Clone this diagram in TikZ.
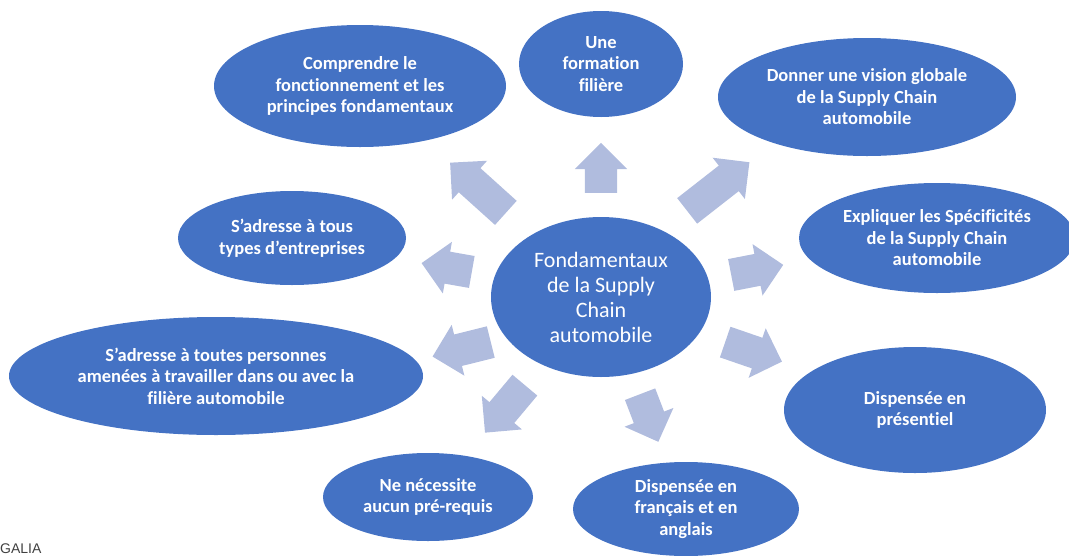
\documentclass[tikz,border=0pt]{standalone}
\usepackage{fontspec}
\setmainfont{Carlito}[Ligatures=NoCommon]
\newfontfamily\galiafont{Liberation Sans}
\usepackage{xcolor}
\usepackage{tikz}
\usetikzlibrary{shapes.geometric,shapes.arrows}
\definecolor{ovalblue}{RGB}{68,114,196}
\definecolor{arrowblue}{RGB}{176,188,222}

\begin{document}
\begin{tikzpicture}[x=1pt,y=-1pt,
        oval/.style={ellipse,fill=ovalblue,text=white,inner sep=0pt,align=center,
                     font=\bfseries\fontsize{18.5}{21.5}\selectfont},
        blockarrow/.style={single arrow,fill=arrowblue,inner xsep=0pt,inner ysep=16pt,
                     minimum width=52pt,single arrow head extend=10pt,anchor=tail}]
        \useasboundingbox (0,0) rectangle (1069,555);
        \node[ellipse,fill=ovalblue,text=white,inner sep=0pt,align=center,
              minimum width=220pt,minimum height=160pt,font=\fontsize{22}{25}\selectfont]
              (core) at (601,297) {Fondamentaux\\de la Supply\\Chain\\automobile};
        \node[oval,minimum width=292pt,minimum height=122pt] (comprendre) at (360,86)
              {Comprendre le\\fonctionnement et les\\principes fondamentaux};
        \node[oval,minimum width=164pt,minimum height=106pt] (filiere) at (601,64)
              {Une\\formation\\filière};
        \node[oval,minimum width=298pt,minimum height=118pt] (vision) at (867,97)
              {Donner une vision globale\\de la Supply Chain\\automobile};
        \node[oval,minimum width=276pt,minimum height=110pt] (specif) at (937,238)
              {Expliquer les Spécificités\\de la Supply Chain\\automobile};
        \node[oval,minimum width=228pt,minimum height=94pt] (types) at (292,238)
              {S’adresse à tous\\types d’entreprises};
        \node[oval,minimum width=414pt,minimum height=118pt] (personnes) at (216,376)
              {S’adresse à toutes personnes\\amenées à travailler dans ou avec la\\filière automobile};
        \node[oval,minimum width=262pt,minimum height=126pt] (presentiel) at (915,410)
              {Dispensée en\\présentiel};
        \node[oval,minimum width=210pt,minimum height=88pt] (prerequis) at (428,497)
              {Ne nécessite\\aucun pré-requis};
        \node[oval,minimum width=226pt,minimum height=94pt] (langues) at (686,509)
              {Dispensée en\\français et en\\anglais};
        \node[blockarrow,rotate=90,minimum height=50pt] (aup) at (601,193) {};
        \node[blockarrow,rotate=138,minimum height=75pt] (anw) at (506,213) {};
        \node[blockarrow,rotate=38,minimum height=79pt] (ane) at (687,211) {};
        \node[blockarrow,rotate=170,minimum height=51pt] (aw) at (472,272) {};
        \node[blockarrow,rotate=11,minimum height=53pt] (ae) at (731,275) {};
        \node[blockarrow,rotate=194,minimum height=60pt] (awl) at (491,342) {};
        \node[blockarrow,rotate=-19,minimum height=60pt] (ael) at (725,342) {};
        \node[blockarrow,rotate=230,minimum height=62pt] (asw) at (525,385) {};
        \node[blockarrow,rotate=-69,minimum height=51pt] (as) at (640,394) {};
        \node[anchor=base west,inner sep=0pt,text=black!75,font=\galiafont\fontsize{14}{14}\selectfont]
              (galia) at (0,553) {GALIA};
\end{tikzpicture}
\end{document}
